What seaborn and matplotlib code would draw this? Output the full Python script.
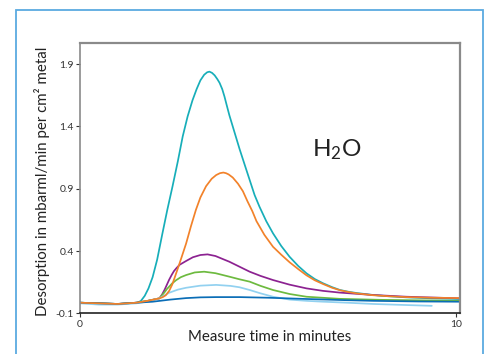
import matplotlib
matplotlib.use("Agg")
import matplotlib.pyplot as plt
import matplotlib.patches as mpatches
import seaborn as sns
import pandas as pd

# ---- data ----
teal_x = [0, 0.5, 1.0, 1.3, 1.53, 1.62, 1.72, 1.82, 1.93, 2.05, 2.19, 2.32, 2.46, 2.6, 2.73, 2.86,
          2.99, 3.1, 3.2, 3.3, 3.38, 3.44, 3.51, 3.58, 3.65, 3.71, 3.78, 3.84, 3.9, 3.97, 4.1, 4.24,
          4.38, 4.51, 4.64, 4.77, 4.95, 5.13, 5.35, 5.57, 5.8, 6.02, 6.24, 6.46, 6.7, 6.91, 7.15,
          7.35, 7.79, 8.2, 8.68, 9.35, 10.1]
teal_y = [-0.015, -0.02, -0.025, -0.02, -0.015, 0.0, 0.04, 0.10, 0.19, 0.33, 0.54, 0.73, 0.92, 1.12,
          1.32, 1.48, 1.61, 1.70, 1.77, 1.815, 1.835, 1.84, 1.83, 1.81, 1.78, 1.75, 1.70, 1.64,
          1.57, 1.49, 1.36, 1.22, 1.09, 0.97, 0.85, 0.756, 0.64, 0.542, 0.44, 0.354, 0.28, 0.221,
          0.175, 0.141, 0.11, 0.087, 0.072, 0.063, 0.047, 0.037, 0.028, 0.02, 0.015]

orange_x = [0, 0.5, 1.0, 1.5, 1.8, 2.11, 2.2, 2.28, 2.37, 2.45, 2.52, 2.6, 2.7, 2.82, 2.95, 3.08, 3.2,
            3.35, 3.5, 3.62, 3.72, 3.81, 3.88, 3.95, 4.06, 4.2, 4.33, 4.45, 4.58, 4.69, 4.9, 5.13,
            5.35, 5.57, 5.8, 6.02, 6.24, 6.46, 6.7, 6.91, 7.15, 7.35, 7.79, 8.2, 8.68, 9.35, 10.1]
orange_y = [-0.015, -0.02, -0.025, -0.015, 0.0, 0.02, 0.03, 0.045, 0.08, 0.13, 0.19, 0.26, 0.35, 0.46,
            0.60, 0.73, 0.83, 0.92, 0.98, 1.01, 1.025, 1.03, 1.025, 1.015, 0.99, 0.94, 0.88, 0.80,
            0.72, 0.64, 0.53, 0.434, 0.37, 0.31, 0.255, 0.205, 0.165, 0.135, 0.105, 0.085, 0.07,
            0.06, 0.045, 0.037, 0.03, 0.025, 0.022]

purple_x = [0, 0.5, 1.0, 1.5, 1.8, 2.11, 2.18, 2.25, 2.31, 2.37, 2.44, 2.5, 2.57, 2.65, 2.82, 3.0,
            3.2, 3.39, 3.6, 3.8, 3.97, 4.24, 4.51, 4.8, 5.13, 5.57, 6.02, 6.46, 6.91, 7.79, 8.68, 10.1]
purple_y = [-0.015, -0.02, -0.025, -0.015, 0.0, 0.02, 0.05, 0.09, 0.13, 0.17, 0.21, 0.24, 0.265, 0.29,
            0.32, 0.35, 0.368, 0.373, 0.36, 0.335, 0.314, 0.274, 0.234, 0.2, 0.167, 0.13, 0.10, 0.08,
            0.066, 0.047, 0.033, 0.02]

green_x = [0, 0.5, 1.0, 1.5, 1.8, 2.11, 2.18, 2.25, 2.31, 2.37, 2.45, 2.55, 2.68, 2.82, 3.05, 3.3,
           3.6, 3.97, 4.24, 4.51, 4.8, 5.13, 5.57, 6.02, 6.91, 8.0, 10.1]
green_y = [-0.015, -0.02, -0.025, -0.015, 0.0, 0.02, 0.045, 0.07, 0.095, 0.114, 0.14, 0.165, 0.19,
           0.207, 0.228, 0.234, 0.222, 0.194, 0.173, 0.154, 0.12, 0.087, 0.055, 0.033, 0.016, 0.008,
           0.0]

lightblue_x = [0, 0.5, 1.0, 1.5, 1.8, 2.11, 2.25, 2.37, 2.6, 2.82, 3.2, 3.62, 4.0, 4.24, 4.51, 4.8,
               5.13, 5.57, 6.02, 6.46, 7.1, 7.79, 8.6, 9.35]
lightblue_y = [-0.02, -0.03, -0.03, -0.02, -0.005, 0.02, 0.045, 0.065, 0.09, 0.105, 0.122, 0.128,
               0.12, 0.109, 0.087, 0.06, 0.033, 0.01, 0.0, -0.007, -0.015, -0.025, -0.033, -0.04]

darkblue_x = [0, 0.5, 1.0, 1.5, 1.93, 2.4, 2.82, 3.2, 3.62, 4.24, 5.0, 6.02, 7.0, 7.79, 9.0, 10.1]
darkblue_y = [-0.015, -0.02, -0.025, -0.015, -0.007, 0.01, 0.022, 0.028, 0.03, 0.03, 0.025, 0.015,
              0.006, 0.0, -0.005, -0.007]

series = [
    ("teal", teal_x, teal_y, "#17AEB9"),
    ("purple", purple_x, purple_y, "#8C2291"),
    ("green", green_x, green_y, "#6DBA3F"),
    ("lightblue", lightblue_x, lightblue_y, "#92D1F0"),
    ("darkblue", darkblue_x, darkblue_y, "#0A6DB6"),
    ("orange", orange_x, orange_y, "#F2822A"),
]

y_ticks = [-0.1, 0.4, 0.9, 1.4, 1.9]
y_tick_labels = ["-0.1", "0.4", "0.9", "1.4", "1.9"]
x_ticks = [0, 10]
x_tick_labels = ["0", "10"]

# ---- build long-form table ----
rows = []
for name, xs, ys, _ in series:
    for xv, yv in zip(xs, ys):
        rows.append({"series": name, "time": xv, "value": yv})
df = pd.DataFrame(rows)
palette = {name: c for name, _, _, c in series}

sns.set_theme(style="white")
plt.rcParams["font.family"] = ["Lato", "DejaVu Sans"]
plt.rcParams["mathtext.fontset"] = "custom"
plt.rcParams["mathtext.rm"] = "Lato"
plt.rcParams["mathtext.it"] = "Lato"
plt.rcParams["lines.solid_joinstyle"] = "round"

fig = plt.figure(figsize=(4.89, 3.54), dpi=100)
ax = fig.add_axes([80 / 489, 1 - 313.3 / 354, 380 / 489, 270.3 / 354])

sns.lineplot(data=df, x="time", y="value", hue="series", hue_order=[s[0] for s in series],
             palette=palette, estimator=None, linewidth=1.25, legend=False, ax=ax)

ax.set_xlim(0, 10.1)
ax.set_ylim(-0.1, 2.07)
ax.set_xticks(x_ticks)
ax.set_xticklabels(x_tick_labels)
ax.set_yticks(y_ticks)
ax.set_yticklabels(y_tick_labels)
ax.tick_params(axis="both", which="both", direction="out", length=3, width=0.8,
               colors="#333333", labelsize=7.5, pad=2, left=True, bottom=True)
ax.tick_params(axis="y", pad=1.5)

for side in ["top", "right", "left"]:
    ax.spines[side].set_color("#8a8a8a")
    ax.spines[side].set_linewidth(1.6)
ax.spines["left"].set_linewidth(1.2)
ax.spines["bottom"].set_color("#222222")
ax.spines["bottom"].set_linewidth(1.2)

ax.set_xlabel("Measure time in minutes", fontsize=10.8, color="#222222")
ax.set_ylabel("Desorption in mbarml/min per cm² metal", fontsize=10.8, color="#222222")
ax.xaxis.set_label_coords(0.5, -0.063)
ax.yaxis.set_label_coords(-0.08, 0.49)

ax.text(6.16, 1.157, r"H$_2$O", fontsize=17.5, color="#222222", ha="left", va="baseline")

# outer light-blue frame
frame = mpatches.Rectangle((16.5 / 489, -0.05), (483.5 - 16.5) / 489, 1.05 - 10 / 354,
                           transform=fig.transFigure, fill=False, edgecolor="#5AAAE0",
                           linewidth=1.3, clip_on=False)
fig.patches.append(frame)

fig.savefig("out.png", dpi=100)
